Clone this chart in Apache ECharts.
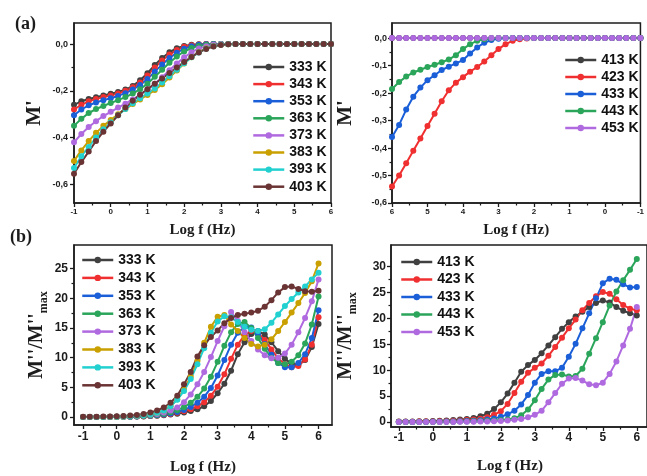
<!DOCTYPE html>
<html>
<head>
<meta charset="utf-8">
<script src="https://cdn.jsdelivr.net/npm/echarts@6/dist/echarts.min.js"></script>
<style>
  html, body { margin: 0; padding: 0; background: #ffffff; }
  #chart { width: 647px; height: 476px; }
</style>
</head>
<body>
<div id="chart"></div>
<script>
// Frequency grid, log10(f / Hz)
const logF = [-1, -0.8, -0.6, -0.4, -0.2, 0, 0.2, 0.4, 0.6, 0.8, 1, 1.2,
              1.4, 1.6, 1.8, 2, 2.2, 2.4, 2.6, 2.8, 3, 3.2, 3.4, 3.6,
              3.8, 4, 4.2, 4.4, 4.6, 4.8, 5, 5.2, 5.4, 5.6, 5.8, 6];

// Temperature labels
const lowTemps = ['333 K', '343 K', '353 K', '363 K', '373 K', '383 K', '393 K', '403 K'];
const highTemps = ['413 K', '423 K', '433 K', '443 K', '453 K'];

// Tick labels
const xTicks = [-1, 0, 1, 2, 3, 4, 5, 6];
const aLeftYTicks = [-0.6, -0.4, -0.2, 0];
const aRightYTicks = [-0.6, -0.5, -0.4, -0.3, -0.2, -0.1, 0];
const bLeftYTicks = [0, 5, 10, 15, 20, 25];
const bRightYTicks = [0, 5, 10, 15, 20, 25, 30];

// (a) M' — 333 K to 403 K
const mRe333 = [-0.26, -0.245, -0.235, -0.228, -0.22, -0.213, -0.205, -0.195, -0.18, -0.155, -0.125, -0.09,
                -0.06, -0.035, -0.018, -0.008, -0.003, -0.001, 0, 0, 0, 0, 0, 0,
                0, 0, 0, 0, 0, 0, 0, 0, 0, 0, 0, 0];
const mRe343 = [-0.28, -0.26, -0.245, -0.235, -0.227, -0.22, -0.212, -0.2, -0.185, -0.165, -0.135, -0.1,
                -0.07, -0.045, -0.025, -0.012, -0.005, -0.002, 0, 0, 0, 0, 0, 0,
                0, 0, 0, 0, 0, 0, 0, 0, 0, 0, 0, 0];
const mRe353 = [-0.305, -0.28, -0.262, -0.25, -0.24, -0.232, -0.222, -0.21, -0.195, -0.175, -0.15, -0.118,
                -0.088, -0.06, -0.037, -0.02, -0.009, -0.003, -0.001, 0, 0, 0, 0, 0,
                0, 0, 0, 0, 0, 0, 0, 0, 0, 0, 0, 0];
const mRe363 = [-0.35, -0.32, -0.295, -0.278, -0.265, -0.252, -0.24, -0.227, -0.212, -0.193, -0.17, -0.14,
                -0.11, -0.08, -0.053, -0.032, -0.017, -0.008, -0.003, -0.001, 0, 0, 0, 0,
                0, 0, 0, 0, 0, 0, 0, 0, 0, 0, 0, 0];
const mRe373 = [-0.42, -0.385, -0.355, -0.33, -0.308, -0.29, -0.272, -0.255, -0.237, -0.217, -0.195, -0.17,
                -0.142, -0.112, -0.083, -0.057, -0.035, -0.019, -0.009, -0.003, -0.001, 0, 0, 0,
                0, 0, 0, 0, 0, 0, 0, 0, 0, 0, 0, 0];
const mRe383 = [-0.5, -0.455, -0.415, -0.38, -0.35, -0.325, -0.3, -0.278, -0.257, -0.237, -0.218, -0.197,
                -0.172, -0.143, -0.113, -0.083, -0.056, -0.034, -0.018, -0.008, -0.003, -0.001, 0, 0,
                0, 0, 0, 0, 0, 0, 0, 0, 0, 0, 0, 0];
const mRe393 = [-0.53, -0.48, -0.44, -0.4, -0.365, -0.335, -0.305, -0.278, -0.253, -0.232, -0.212, -0.19,
                -0.165, -0.138, -0.11, -0.082, -0.057, -0.036, -0.02, -0.009, -0.003, -0.001, 0, 0,
                0, 0, 0, 0, 0, 0, 0, 0, 0, 0, 0, 0];
const mRe403 = [-0.555, -0.505, -0.46, -0.415, -0.375, -0.34, -0.305, -0.272, -0.243, -0.217, -0.193, -0.17,
                -0.147, -0.124, -0.1, -0.077, -0.055, -0.036, -0.021, -0.01, -0.004, -0.001, 0, 0,
                0, 0, 0, 0, 0, 0, 0, 0, 0, 0, 0, 0];

// (a) M' — 413 K to 453 K
const mRe413 = [0, 0, 0, 0, 0, 0, 0, 0, 0, 0, 0, 0,
                0, 0, 0, 0, 0, 0, 0, 0, 0, 0, 0, 0,
                0, 0, 0, 0, 0, 0, 0, 0, 0, 0, 0, 0];
const mRe423 = [0, 0, 0, 0, 0, 0, 0, 0, 0, 0, 0, 0,
                0, 0, 0, 0, -0.001, -0.004, -0.01, -0.022, -0.04, -0.062, -0.085, -0.105,
                -0.122, -0.142, -0.162, -0.19, -0.23, -0.275, -0.32, -0.365, -0.41, -0.455, -0.5, -0.54];
const mRe433 = [0, 0, 0, 0, 0, 0, 0, 0, 0, 0, 0, 0,
                0, 0, 0, 0, 0, 0, 0, 0, -0.002, -0.007, -0.017, -0.034,
                -0.056, -0.08, -0.092, -0.104, -0.116, -0.135, -0.153, -0.18, -0.213, -0.26, -0.316, -0.36];
const mRe443 = [0, 0, 0, 0, 0, 0, 0, 0, 0, 0, 0, 0,
                0, 0, 0, 0, 0, 0, 0, 0, 0, -0.001, -0.004, -0.01,
                -0.022, -0.04, -0.062, -0.078, -0.088, -0.097, -0.105, -0.115, -0.125, -0.14, -0.16, -0.185];
const mRe453 = [0, 0, 0, 0, 0, 0, 0, 0, 0, 0, 0, 0,
                0, 0, 0, 0, 0, 0, 0, 0, 0, 0, 0, 0,
                0, 0, 0, 0, 0, 0, 0, 0, 0, 0, 0, 0];

// (b) M''/M''max — 333 K to 403 K
const mIm333 = [0, 0, 0, 0, 0, 0, 0.02, 0.04, 0.07, 0.1, 0.15, 0.22,
                0.3, 0.4, 0.55, 0.75, 1.0, 1.3, 1.8, 2.7, 4.0, 5.6, 7.8, 10.6,
                12.6, 14.0, 14.5, 13.9, 12.6, 11.1, 9.8, 9.0, 8.8, 9.6, 11.8, 15.7];
const mIm343 = [0, 0, 0, 0, 0, 0.01, 0.03, 0.05, 0.08, 0.12, 0.18, 0.26,
                0.36, 0.5, 0.7, 0.95, 1.3, 1.8, 2.5, 3.6, 5.1, 7.2, 9.8, 12.2,
                13.8, 14.5, 14.2, 13.0, 11.4, 9.9, 8.9, 8.4, 8.6, 9.7, 12.2, 16.8];
const mIm353 = [0, 0, 0, 0, 0, 0.02, 0.04, 0.06, 0.1, 0.15, 0.22, 0.31,
                0.43, 0.6, 0.85, 1.2, 1.7, 2.4, 3.4, 4.9, 7.0, 9.6, 12.2, 14.2,
                15.2, 15.1, 14.0, 12.3, 10.5, 9.1, 8.4, 8.4, 9.1, 10.6, 13.3, 18.0];
const mIm363 = [0, 0, 0, 0, 0.01, 0.02, 0.05, 0.08, 0.12, 0.18, 0.27, 0.38,
                0.55, 0.8, 1.15, 1.65, 2.4, 3.4, 4.8, 6.8, 9.3, 12.0, 14.3, 15.7,
                16.0, 15.0, 13.3, 11.5, 10.0, 9.1, 8.9, 9.3, 10.4, 12.4, 15.6, 20.3];
const mIm373 = [0, 0, 0, 0.01, 0.02, 0.04, 0.07, 0.11, 0.17, 0.25, 0.36, 0.52,
                0.75, 1.1, 1.6, 2.5, 3.8, 5.5, 7.6, 10.1, 12.8, 15.3, 17.7, 16.2,
                14.3, 12.8, 11.4, 10.4, 9.9, 10.0, 10.7, 12.2, 14.3, 16.7, 19.5, 23.2];
const mIm383 = [0, 0, 0, 0.01, 0.03, 0.05, 0.09, 0.14, 0.2, 0.3, 0.45, 0.7,
                1.1, 1.8, 3.0, 4.6, 6.8, 9.5, 12.5, 15.2, 16.9, 17.2, 15.6, 14.5,
                13.3, 12.3, 11.9, 12.2, 13.1, 14.5, 16.0, 17.6, 19.2, 20.9, 22.9, 25.9];
const mIm393 = [0, 0, 0, 0.01, 0.03, 0.05, 0.09, 0.14, 0.2, 0.3, 0.45, 0.7,
                1.1, 1.8, 2.9, 4.4, 6.4, 8.9, 11.6, 14.2, 16.1, 17.0, 16.8, 16.0,
                15.2, 14.7, 14.5, 14.8, 15.9, 17.3, 18.7, 19.9, 21.0, 22.0, 23.2, 24.3];
const mIm403 = [0.05, 0.05, 0.06, 0.08, 0.1, 0.12, 0.17, 0.25, 0.35, 0.5, 0.75, 1.1,
                1.6, 2.4, 3.6, 5.5, 7.6, 10.2, 12.1, 13.5, 14.6, 15.8, 16.7, 17.2,
                17.4, 17.6, 17.9, 18.6, 19.7, 21.0, 21.9, 22.0, 21.6, 21.2, 21.1, 21.3];

// (b) M''/M''max — 413 K to 453 K
const mIm413 = [0.1, 0.1, 0.12, 0.14, 0.16, 0.2, 0.24, 0.3, 0.38, 0.48, 0.6, 0.8,
                1.1, 1.6, 2.5, 3.8, 5.5, 7.6, 9.7, 11.0, 12.0, 13.3, 14.8, 16.4,
                18.0, 19.3, 20.4, 21.3, 22.2, 23.0, 23.5, 23.1, 22.2, 21.5, 21.0, 20.6];
const mIm423 = [0.05, 0.05, 0.06, 0.08, 0.1, 0.12, 0.15, 0.19, 0.24, 0.3, 0.38, 0.5,
                0.65, 0.9, 1.4, 2.1, 3.5, 5.6, 7.8, 9.5, 10.5, 11.3, 12.8, 14.5,
                16.3, 18.1, 19.8, 21.6, 23.0, 24.3, 25.1, 24.8, 23.7, 22.6, 21.9, 21.6];
const mIm433 = [0, 0, 0, 0.01, 0.02, 0.04, 0.06, 0.08, 0.11, 0.15, 0.2, 0.27,
                0.36, 0.5, 0.7, 1.0, 1.5, 2.2, 3.4, 5.2, 7.6, 9.3, 9.8, 9.8,
                10.5, 12.6, 15.1, 18.1, 21.0, 23.9, 26.8, 27.7, 27.5, 26.6, 26.0, 26.1];
const mIm443 = [0, 0, 0, 0, 0, 0.01, 0.02, 0.04, 0.06, 0.08, 0.11, 0.14,
                0.18, 0.23, 0.3, 0.38, 0.5, 0.75, 1.3, 2.4, 4.2, 6.4, 8.2, 9.1,
                9.2, 8.8, 8.9, 10.3, 13.2, 16.2, 19.3, 22.5, 25.2, 27.4, 29.4, 31.5];
const mIm453 = [0, 0, 0, 0, 0, 0, 0.01, 0.02, 0.03, 0.04, 0.05, 0.07,
                0.09, 0.12, 0.16, 0.22, 0.3, 0.42, 0.6, 0.9, 1.4, 2.2, 3.8, 5.6,
                7.4, 8.4, 8.5, 8.0, 7.3, 7.1, 7.6, 9.3, 11.7, 14.8, 18.0, 22.2];

const lowColors = ['#404040', '#f03030', '#1a5fd8', '#2aa55a', '#b06ae0', '#c9a000', '#22d0d0', '#6b3434'];
const highColors = ['#404040', '#f03030', '#1a5fd8', '#2aa55a', '#b06ae0'];

const sans = '"Liberation Sans", Arial, sans-serif';
const serif = '"Liberation Serif", "Times New Roman", serif';
const ink = '#1c1c1c';

function lineSeries(name, values, panel, color) {
  return {
    type: 'line', name: name,
    xAxisIndex: panel, yAxisIndex: panel,
    data: logF.map((x, i) => [x, values[i]]),
    symbol: 'circle', symbolSize: 6, showAllSymbol: true,
    lineStyle: { width: 2, color: color },
    itemStyle: { color: color },
    emphasis: { disabled: true },
    animation: false
  };
}

const comma = v => v.toFixed(1).replace('.', ',');
const halfSteps = ticks => ticks.slice(0, -1).map((t, i) => (t + ticks[i + 1]) / 2);

function majorAxis(grid, min, max, ticks, fmt, fontSize, margin, extra) {
  return Object.assign({
    type: 'value', gridIndex: grid, min: min, max: max,
    axisLine: { show: true, onZero: false, lineStyle: { color: ink, width: 1.5 } },
    axisTick: { show: true, inside: false, length: 4, customValues: ticks, lineStyle: { color: ink, width: 1.3 } },
    axisLabel: { show: true, customValues: ticks, formatter: fmt, margin: margin,
                 fontFamily: sans, fontWeight: 'bold', fontSize: fontSize, color: ink },
    splitLine: { show: false }
  }, extra || {});
}

// Second axis on the same side, carrying only the short half-step ticks
function minorAxis(grid, min, max, ticks, extra) {
  return Object.assign({
    type: 'value', gridIndex: grid, min: min, max: max,
    axisLine: { show: false, onZero: false },
    axisTick: { show: true, inside: false, length: 2.5, customValues: halfSteps(ticks), lineStyle: { color: ink, width: 1.2 } },
    axisLabel: { show: false },
    splitLine: { show: false }
  }, extra || {});
}

const intFmt = v => String(v);
const axisTitle = { fontFamily: serif, fontWeight: 'bold', fontSize: 15, color: ink };
const yTitle = { fontFamily: serif, fontWeight: 'bold', fontSize: 21, color: ink };
const yTitleRich = {
  fontFamily: serif, fontWeight: 'bold', color: ink,
  rich: {
    m: { fontFamily: serif, fontWeight: 'bold', fontSize: 20, color: ink, lineHeight: 26 },
    s: { fontFamily: serif, fontWeight: 'bold', fontSize: 12, color: ink, lineHeight: 26, verticalAlign: 'bottom' }
  }
};

const grids = [
  { left: 74, top: 23, width: 257, height: 180 },
  { left: 392, top: 23, width: 257, height: 180 },
  { left: 74, top: 245, width: 258, height: 180 },
  { left: 391, top: 245, width: 260, height: 182 }
].map(g => Object.assign(g, { show: true, borderColor: ink, borderWidth: 1.5, backgroundColor: 'transparent' }));

const xAxes = [
  majorAxis(0, -1, 6, xTicks, intFmt, 8, 5, { position: 'bottom', name: 'Log f (Hz)', nameLocation: 'middle', nameGap: 20, nameTextStyle: axisTitle }),
  majorAxis(1, -1, 6, xTicks, intFmt, 8, 5, { position: 'bottom', inverse: true, name: 'Log f (Hz)', nameLocation: 'middle', nameGap: 20, nameTextStyle: axisTitle }),
  majorAxis(2, -1.27, 6.4, xTicks, intFmt, 12, 6, { position: 'bottom', name: 'Log f (Hz)', nameLocation: 'middle', nameGap: 35, nameTextStyle: axisTitle }),
  majorAxis(3, -1.23, 6.3, xTicks, intFmt, 12, 5, { position: 'bottom', name: 'Log f (Hz)', nameLocation: 'middle', nameGap: 32, nameTextStyle: Object.assign({ padding: [0, 18, 0, 0] }, axisTitle) }),
  minorAxis(0, -1, 6, xTicks, { position: 'bottom' }),
  minorAxis(1, -1, 6, xTicks, { position: 'bottom', inverse: true }),
  minorAxis(2, -1.27, 6.4, xTicks, { position: 'bottom' }),
  minorAxis(3, -1.23, 6.3, xTicks, { position: 'bottom' })
];

const yAxes = [
  majorAxis(0, -0.68, 0.09, aLeftYTicks, comma, 9, 6, { position: 'left', name: "M'", nameLocation: 'middle', nameRotate: 90, nameGap: 29, nameTextStyle: yTitle }),
  majorAxis(1, -0.6, 0.055, aRightYTicks, comma, 9, 5, { position: 'left', name: "M'", nameLocation: 'middle', nameRotate: 90, nameGap: 36, nameTextStyle: yTitle }),
  majorAxis(2, -1.35, 29, bLeftYTicks, intFmt, 12, 6, { position: 'left', name: "{m|M''/M''}{s|max}", nameLocation: 'middle', nameRotate: 90, nameGap: 24, nameTextStyle: yTitleRich }),
  majorAxis(3, -0.96, 34.2, bRightYTicks, intFmt, 12, 5, { position: 'left', name: "{m|M''/M''}{s|max}", nameLocation: 'middle', nameRotate: 90, nameGap: 32, nameTextStyle: yTitleRich }),
  minorAxis(0, -0.68, 0.09, aLeftYTicks, { position: 'left' }),
  minorAxis(1, -0.6, 0.055, aRightYTicks, { position: 'left' }),
  minorAxis(2, -1.35, 29, bLeftYTicks, { position: 'left' }),
  minorAxis(3, -0.96, 34.2, bRightYTicks, { position: 'left' })
];

const aLow = [mRe333, mRe343, mRe353, mRe363, mRe373, mRe383, mRe393, mRe403];
const aHigh = [mRe413, mRe423, mRe433, mRe443, mRe453];
const bLow = [mIm333, mIm343, mIm353, mIm363, mIm373, mIm383, mIm393, mIm403];
const bHigh = [mIm413, mIm423, mIm433, mIm443, mIm453];

const series = [].concat(
  aLow.map((v, i) => lineSeries(lowTemps[i], v, 0, lowColors[i])),
  aHigh.map((v, i) => lineSeries(highTemps[i], v, 1, highColors[i])),
  bLow.map((v, i) => lineSeries(lowTemps[i], v, 2, lowColors[i])),
  bHigh.map((v, i) => lineSeries(highTemps[i], v, 3, highColors[i]))
);

function legendAt(names, left, top, gap) {
  return {
    data: names, orient: 'vertical', left: left, top: top, padding: 0,
    itemWidth: 31, itemHeight: 8, itemGap: gap,
    selectedMode: false,
    lineStyle: { width: 2.5 },
    textStyle: { fontFamily: sans, fontWeight: 'bold', fontSize: 14, color: '#111', lineHeight: 14 }
  };
}

const option = {
  backgroundColor: '#ffffff',
  animation: false,
  grid: grids,
  xAxis: xAxes,
  yAxis: yAxes,
  legend: [
    legendAt(lowTemps, 252, 60, 3.1),
    legendAt(highTemps, 564, 53, 3),
    legendAt(lowTemps, 81, 253, 3.9),
    legendAt(highTemps, 400, 255, 3.5)
  ],
  graphic: [
    { type: 'text', left: 15, top: 15, style: { text: '(a)', font: 'bold 18px ' + serif, fill: ink } },
    { type: 'text', left: 10, top: 228, style: { text: '(b)', font: 'bold 18px ' + serif, fill: ink } }
  ],
  series: series
};

const chart = echarts.init(document.getElementById('chart'), null, { renderer: 'canvas' });
chart.setOption(option);
</script>
</body>
</html>
